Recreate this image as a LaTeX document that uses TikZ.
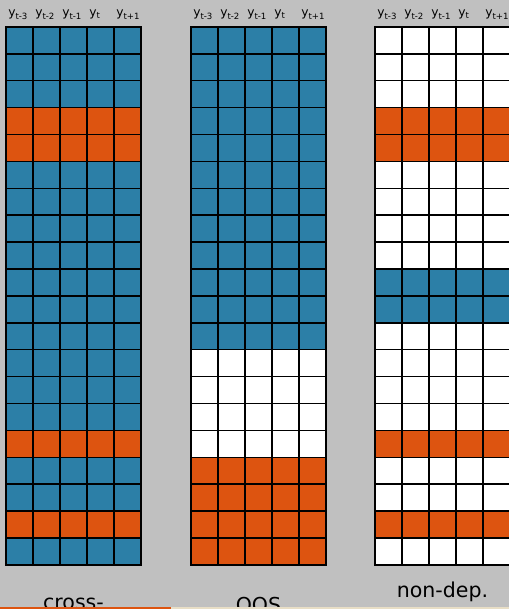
\documentclass[tikz,border=0pt]{standalone}
\usepackage{fontspec}
\setmainfont{DejaVu Sans}
\definecolor{cellblue}{RGB}{44,127,167}
\definecolor{cellorange}{RGB}{221,84,16}
\definecolor{bggray}{RGB}{192,192,192}
\definecolor{barbeige}{RGB}{232,222,198}
\tikzset{
  colhead/.style={anchor=base west,inner sep=0pt,font=\fontsize{9.2}{10}\selectfont},
  panellabel/.style={anchor=base,inner sep=0pt,font=\fontsize{15.4}{17}\selectfont},
  gridline/.style={line width=1.1pt,black}
}
\begin{document}
\begin{tikzpicture}[x=0.75pt,y=0.75pt,yscale=-1,xscale=1]
%background, fixes the page size
\fill[bggray] (0,0) rectangle (509,609);
\useasboundingbox (0,0) rectangle (509,609);

%Panel: cross-sectional
\fill[cellblue] (6,26.9) rectangle (141,564.9);
\fill[cellorange] (6,107.6) rectangle (141,161.4);
\fill[cellorange] (6,430.4) rectangle (141,457.3);
\fill[cellorange] (6,511.1) rectangle (141,538);
\draw[gridline,xstep=27,ystep=26.9,shift={(6,26.9)}] (0,0) grid (135,538);
\draw[gridline] (6,26.9) rectangle (141,564.9);

%Panel: OOS
\fill[cellblue] (191,26.9) rectangle (326,349.7);
\fill[white] (191,349.7) rectangle (326,457.3);
\fill[cellorange] (191,457.3) rectangle (326,564.9);
\draw[gridline,xstep=27,ystep=26.9,shift={(191,26.9)}] (0,0) grid (135,538);
\draw[gridline] (191,26.9) rectangle (326,564.9);

%Panel: non-dep.
\fill[white] (375,26.9) rectangle (510,564.9);
\fill[cellorange] (375,107.6) rectangle (510,161.4);
\fill[cellblue] (375,269) rectangle (510,322.8);
\fill[cellorange] (375,430.4) rectangle (510,457.3);
\fill[cellorange] (375,511.1) rectangle (510,538);
\draw[gridline,xstep=27,ystep=26.9,shift={(375,26.9)}] (0,0) grid (135,538);
\draw[gridline] (375,26.9) rectangle (510,564.9);

% Text Nodes: column heads
\foreach \gx/\gn in {6/cs,191/oos,375/nd}{
  \foreach \lab [count=\i from 0] in {t-3,t-2,t-1,t,t+1}
    \node[colhead] (\gn-head-\i) at (\gx+27*\i+2,17) {y\textsubscript{\lab}};
}

% Text Nodes: panel labels
\node[panellabel] (cs-label) at (73.5,609) {cross-};
\node[panellabel] (oos-label) at (258.5,612) {OOS};
\node[panellabel] (nd-label) at (442.5,597) {non-dep.};

%bar along the bottom edge
\fill[cellorange] (0,607) rectangle (171,609);
\fill[barbeige] (171,607) rectangle (509,609);
\end{tikzpicture}
\end{document}
